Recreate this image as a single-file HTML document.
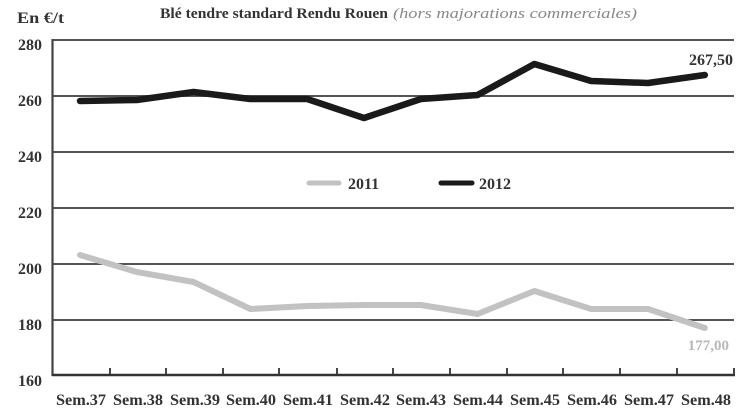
<!DOCTYPE html>
<html><head><meta charset="utf-8"><style>
html,body{margin:0;padding:0;background:#fff;}
svg{display:block;}
text{font-family:"Liberation Serif",serif;}
</style></head><body>
<svg width="747" height="415" viewBox="0 0 747 415" xmlns="http://www.w3.org/2000/svg">
<rect width="747" height="415" fill="#fff"/>
<!-- title -->
<text x="160" y="18" font-size="15" font-weight="bold" fill="#333" textLength="228" lengthAdjust="spacingAndGlyphs">Blé tendre standard Rendu Rouen</text>
<text x="393" y="18" font-size="15" font-style="italic" fill="#888" textLength="244" lengthAdjust="spacingAndGlyphs">(hors majorations commerciales)</text>
<text x="17" y="23" font-size="16" font-weight="bold" fill="#333" textLength="47" lengthAdjust="spacingAndGlyphs">En €/t</text>
<!-- gridlines -->
<g stroke="#555" stroke-width="2">
<line x1="52" y1="40" x2="734" y2="40"/>
<line x1="52" y1="96" x2="734" y2="96"/>
<line x1="52" y1="152" x2="734" y2="152"/>
<line x1="52" y1="208" x2="734" y2="208"/>
<line x1="52" y1="264" x2="734" y2="264"/>
<line x1="52" y1="320" x2="734" y2="320"/>
</g>
<!-- axes -->
<line x1="52.5" y1="39" x2="52.5" y2="376" stroke="#444" stroke-width="2.2"/>
<line x1="52" y1="375" x2="735" y2="375" stroke="#333" stroke-width="2.4"/>
<g stroke="#333" stroke-width="1.8">
<line x1="110" y1="368" x2="110" y2="375"/>
<line x1="166" y1="368" x2="166" y2="375"/>
<line x1="223" y1="368" x2="223" y2="375"/>
<line x1="279" y1="368" x2="279" y2="375"/>
<line x1="337" y1="368" x2="337" y2="375"/>
<line x1="393" y1="368" x2="393" y2="375"/>
<line x1="450" y1="368" x2="450" y2="375"/>
<line x1="507" y1="368" x2="507" y2="375"/>
<line x1="563" y1="368" x2="563" y2="375"/>
<line x1="620" y1="368" x2="620" y2="375"/>
<line x1="677" y1="368" x2="677" y2="375"/>
<line x1="734" y1="368" x2="734" y2="375"/>
</g>
<!-- y labels -->
<g font-size="16" font-weight="bold" fill="#333" text-anchor="end">
<text x="42" y="50">280</text>
<text x="42" y="106">260</text>
<text x="42" y="162">240</text>
<text x="42" y="218">220</text>
<text x="42" y="274">200</text>
<text x="42" y="330">180</text>
<text x="42" y="386">160</text>
</g>
<!-- x labels -->
<g font-size="16" font-weight="bold" fill="#333" text-anchor="middle">
<text x="81" y="405" textLength="50" lengthAdjust="spacingAndGlyphs">Sem.37</text>
<text x="138" y="405" textLength="50" lengthAdjust="spacingAndGlyphs">Sem.38</text>
<text x="195" y="405" textLength="50" lengthAdjust="spacingAndGlyphs">Sem.39</text>
<text x="251" y="405" textLength="50" lengthAdjust="spacingAndGlyphs">Sem.40</text>
<text x="308" y="405" textLength="50" lengthAdjust="spacingAndGlyphs">Sem.41</text>
<text x="365" y="405" textLength="50" lengthAdjust="spacingAndGlyphs">Sem.42</text>
<text x="421" y="405" textLength="50" lengthAdjust="spacingAndGlyphs">Sem.43</text>
<text x="478" y="405" textLength="50" lengthAdjust="spacingAndGlyphs">Sem.44</text>
<text x="535" y="405" textLength="50" lengthAdjust="spacingAndGlyphs">Sem.45</text>
<text x="592" y="405" textLength="50" lengthAdjust="spacingAndGlyphs">Sem.46</text>
<text x="649" y="405" textLength="50" lengthAdjust="spacingAndGlyphs">Sem.47</text>
<text x="706" y="405" textLength="50" lengthAdjust="spacingAndGlyphs">Sem.48</text>
</g>
<!-- series 2011 -->
<polyline fill="none" stroke="#c2c2c2" stroke-width="6" stroke-linejoin="round" stroke-linecap="round"
points="80,255 136.8,272 193.6,282 250.4,309 307.2,306 364,305 420.8,305 477.6,314 534.4,291 591.2,309 648,309 704.8,328"/>
<!-- series 2012 -->
<polyline fill="none" stroke="#1a1a1a" stroke-width="6.5" stroke-linejoin="round" stroke-linecap="round"
points="80,101 136.8,100 193.6,92 250.4,99 307.2,99 364,118 420.8,99 477.6,95 534.4,64 591.2,81 648,83 704.8,75"/>
<!-- annotations -->
<text x="733" y="65" font-size="16" font-weight="bold" fill="#333" text-anchor="end">267,50</text>
<text x="729" y="350" font-size="15" fill="#b8b8b8" text-anchor="end" font-weight="bold">177,00</text>
<!-- legend -->
<line x1="309" y1="183" x2="339" y2="183" stroke="#c2c2c2" stroke-width="5" stroke-linecap="round"/>
<text x="348" y="189" font-size="16" font-weight="bold" fill="#333">2011</text>
<line x1="441" y1="183" x2="472" y2="183" stroke="#1a1a1a" stroke-width="5" stroke-linecap="round"/>
<text x="479" y="189" font-size="16" font-weight="bold" fill="#333">2012</text>
</svg>
</body></html>
